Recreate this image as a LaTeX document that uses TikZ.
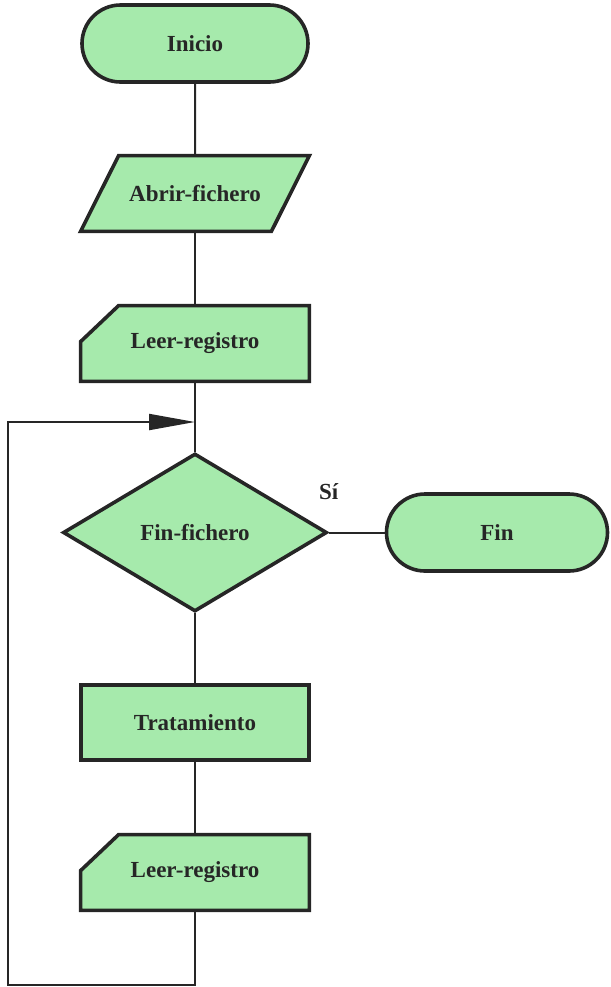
\documentclass[tikz,border=0pt]{standalone}
\usepackage{fontspec}
\setmainfont{Liberation Serif}
\usetikzlibrary{shapes,shapes.geometric,shapes.misc,arrows.meta,calc,positioning,backgrounds}
\definecolor{verde}{RGB}{166,234,172}
\definecolor{borde}{RGB}{38,38,38}
\tikzset{caja/.style={draw=borde, fill=verde, text=borde, line width=1.8pt, font=\bfseries\fontsize{11.5}{13}\selectfont, inner sep=2pt}}
\tikzstyle{term}=[caja, rounded rectangle, minimum width=117pt, minimum height=38.5pt]
\tikzstyle{hueco}=[font=\bfseries\fontsize{11.5}{13}\selectfont, text=borde, rectangle, minimum width=114pt, minimum height=37.5pt]
\tikzstyle{proc}=[caja, rectangle, minimum width=114pt, minimum height=37.5pt]
\tikzstyle{decis}=[caja, diamond, aspect=1.7, inner sep=1pt, minimum width=132pt, minimum height=79pt]
\tikzstyle{linea}=[draw=borde, line width=1pt]

\begin{document}
\begin{tikzpicture}[node distance=75pt]
\useasboundingbox (0,0) rectangle (305.5pt,-493.5pt);
\node[term] (inicio) at (97.5pt,-21.75pt) {Inicio};
\node[hueco][below of=inicio] (abrir) {Abrir-fichero};
\node[hueco][below of=abrir] (leer1) {Leer-registro};
\node[decis][below of=leer1, node distance=94.5pt] (fichero) {Fin-fichero};
\node[proc][below of=fichero, node distance=95pt] (trat) {Tratamiento};
\node[hueco][below of=trat] (leer2) {Leer-registro};
\node[term, minimum width=114.5pt][right of=fichero, node distance=151pt] (fin) {Fin};
\node[font=\bfseries\fontsize{11.5}{13}\selectfont, text=borde] (si) at ([yshift=20.5pt]fichero.east) {Sí};
\coordinate (junta) at (97.5pt,-211pt);
\coordinate (esquina) at (4pt,-492.5pt);
\begin{scope}[on background layer]
\draw[caja] (abrir.south west) -- ($(abrir.north west)+(19pt,0)$) -- (abrir.north east)
            -- ($(abrir.south east)-(19pt,0)$) -- cycle;
\foreach \n in {leer1,leer2}
  \draw[caja] ($(\n.north west)+(19pt,0)$) -- (\n.north east) -- (\n.south east)
              -- (\n.south west) -- ($(\n.north west)-(0,18pt)$) -- cycle;
\end{scope}
\path[linea] (inicio) edge (abrir)
             (abrir) edge (leer1)
             (leer1) edge (fichero)
             (fichero) edge (trat)
             (trat) edge (leer2)
             (fichero) edge (fin);
\draw[linea, -{Triangle[length=23pt, width=8pt]}] (leer2) |- (esquina) |- (junta);
\end{tikzpicture}
\end{document}
